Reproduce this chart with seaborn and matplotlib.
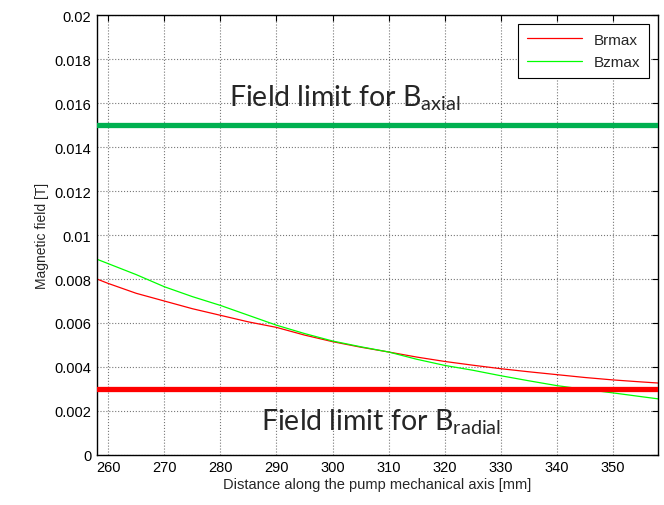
import matplotlib
matplotlib.use("Agg")
import matplotlib.pyplot as plt
import seaborn as sns
import pandas as pd
from matplotlib.ticker import FuncFormatter, MultipleLocator

# ---- data ----
distance = [258, 260, 265, 270, 275, 280, 285, 290, 295, 300, 305, 310,
            315, 320, 325, 330, 335, 340, 345, 350, 355, 358]
brmax = [0.0080, 0.0078, 0.00735, 0.0070, 0.00665, 0.00635, 0.00605, 0.0058,
         0.00545, 0.00515, 0.0049, 0.00468, 0.00445, 0.00425, 0.00408, 0.00392,
         0.00378, 0.00365, 0.00352, 0.00341, 0.00332, 0.00327]
bzmax = [0.0089, 0.0087, 0.0082, 0.00765, 0.0072, 0.0068, 0.00635, 0.0059,
         0.00552, 0.00518, 0.00492, 0.00468, 0.00435, 0.00407, 0.00385, 0.0036,
         0.00337, 0.00315, 0.00298, 0.00282, 0.00265, 0.00255]
series_names = ["Brmax", "Bzmax"]
limit_axial = 0.015
limit_radial = 0.003
x_ticks = [260, 270, 280, 290, 300, 310, 320, 330, 340, 350]

sns.set_theme(style="white")
plt.rcParams["font.family"] = ["Liberation Sans", "DejaVu Sans"]
plt.rcParams["mathtext.fontset"] = "custom"
plt.rcParams["mathtext.rm"] = "Lato"
plt.rcParams["mathtext.it"] = "Lato"
plt.rcParams["mathtext.default"] = "regular"

df = pd.DataFrame({
    "distance": distance * 2,
    "value": brmax + bzmax,
    "series": [series_names[0]] * len(distance) + [series_names[1]] * len(distance),
})

fig = plt.figure(figsize=(6.64, 5.06), dpi=100)
ax = fig.add_axes([0.146, 0.099, 0.845, 0.869])

ax.grid(True, linestyle=":", color="#777777", linewidth=0.8)
ax.set_axisbelow(True)

sns.lineplot(data=df, x="distance", y="value", hue="series",
             palette={"Brmax": "#FF0000", "Bzmax": "#00FF00"},
             linewidth=0.9, ax=ax, legend=True)

ax.axhline(limit_axial, color="#00B050", linewidth=3.8, zorder=3)
ax.axhline(limit_radial, color="#FF0000", linewidth=3.8, zorder=3)

ax.text(281.5, 0.0159, r"Field limit for B$_{axial}$", fontsize=20.5,
        family="Lato", ha="left", va="baseline")
ax.text(287.2, 0.00114, r"Field limit for B$_{radial}$", fontsize=20.5,
        family="Lato", ha="left", va="baseline")

ax.set_xlim(258, 358)
ax.set_ylim(0, 0.02)
ax.set_xticks(x_ticks)
ax.yaxis.set_major_locator(MultipleLocator(0.002))
ax.yaxis.set_major_formatter(FuncFormatter(lambda v, p: "%g" % round(v, 6)))
ax.tick_params(direction="in", length=4, width=0.8, top=True, right=True,
               labelsize=10.5, colors="black", pad=4)
for s in ax.spines.values():
    s.set_visible(True)
    s.set_color("black")
    s.set_linewidth(1.0)

ax.set_xlabel("Distance along the pump mechanical axis [mm]", fontsize=10.5, labelpad=2)
ax.set_ylabel("Magnetic field [T]", fontsize=10, labelpad=4)

leg = ax.legend(loc="upper right", fontsize=11, frameon=True, fancybox=False,
                edgecolor="black", framealpha=1, borderaxespad=0.6,
                handlelength=3.6, borderpad=0.55, labelspacing=0.55,
                handletextpad=0.8)
leg.get_frame().set_linewidth(0.8)
for line in leg.get_lines():
    line.set_linewidth(0.9)

fig.savefig("out.png", dpi=100)
